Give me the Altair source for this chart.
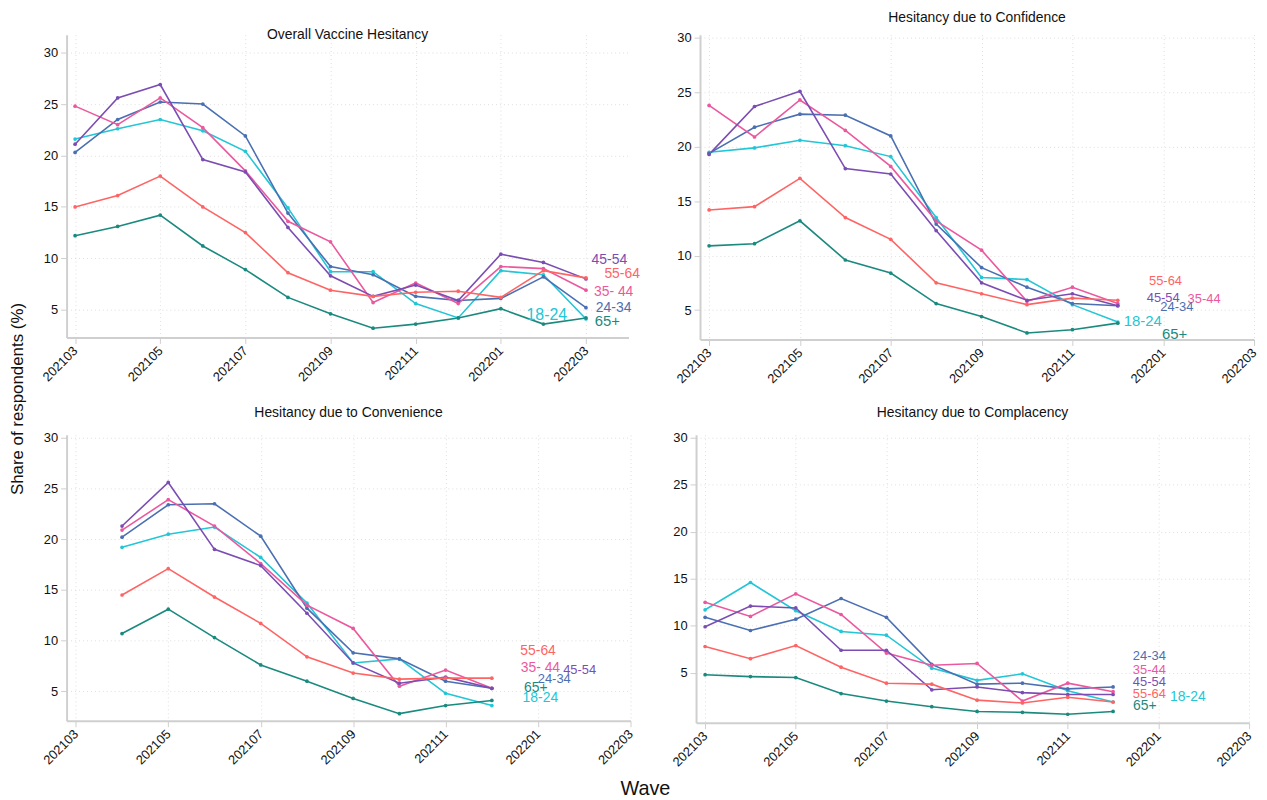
import altair as alt
import pandas as pd

FONT = "Liberation Sans Narrow, Liberation Sans, Arial, sans-serif"

groups = ["18-24", "24-34", "35-44", "45-54", "55-64", "65+"]
palette = ["#22C6D6", "#4A6FB2", "#EC589E", "#7B4DB3", "#FF6464", "#1A8A7E"]

tick_months = [0, 2, 4, 6, 8, 10, 12]
tick_labels = ["202103", "202105", "202107", "202109", "202111", "202201", "202203"]
y_ticks = [5, 10, 15, 20, 25, 30]

# ---------- Panel 1: Overall Vaccine Hesitancy (202103 .. 202203) ----------
p1_months = [0, 1, 2, 3, 4, 5, 6, 7, 8, 9, 10, 11, 12]
p1_18_24 = [21.6, 22.6, 23.5, 22.4, 20.4, 14.9, 8.7, 8.7, 5.6, 4.2, 8.8, 8.4, 4.1]
p1_24_34 = [20.3, 23.5, 25.2, 25.0, 21.9, 14.4, 9.2, 8.4, 6.3, 5.9, 6.1, 8.2, 5.2]
p1_35_44 = [24.8, 23.0, 25.6, 22.7, 18.5, 13.6, 11.6, 5.7, 7.6, 5.6, 9.2, 9.0, 6.9]
p1_45_54 = [21.1, 25.6, 26.9, 19.6, 18.4, 13.0, 8.3, 6.3, 7.4, 5.9, 10.4, 9.6, 8.0]
p1_55_64 = [15.0, 16.1, 18.0, 15.0, 12.5, 8.6, 6.9, 6.3, 6.7, 6.8, 6.2, 8.8, 8.1]
p1_65 = [12.2, 13.1, 14.2, 11.2, 8.9, 6.2, 4.6, 3.2, 3.6, 4.2, 5.1, 3.6, 4.2]
p1_lab_text = ["45-54", "55-64", "35- 44", "24-34", "65+", "18-24"]
p1_lab_group = ["45-54", "55-64", "35-44", "24-34", "65+", "18-24"]
p1_lab_m = [12.55, 12.85, 12.65, 12.65, 12.5, 11.08]
p1_lab_v = [9.8, 8.5, 6.7, 5.2, 3.9, 4.5]
p1_lab_size = [14, 14, 14, 14, 15, 16]

# ---------- Panel 2: Hesitancy due to Confidence (202103 .. 202112) ----------
p2_months = [0, 1, 2, 3, 4, 5, 6, 7, 8, 9]
p2_18_24 = [19.5, 19.9, 20.6, 20.1, 19.1, 13.5, 8.0, 7.8, 5.5, 3.9]
p2_24_34 = [19.4, 21.8, 23.0, 22.9, 21.0, 12.9, 8.9, 7.1, 5.6, 5.4]
p2_35_44 = [23.8, 20.9, 24.3, 21.5, 18.2, 13.2, 10.5, 5.8, 7.1, 5.6]
p2_45_54 = [19.3, 23.7, 25.1, 18.0, 17.5, 12.3, 7.5, 5.9, 6.5, 5.4]
p2_55_64 = [14.2, 14.5, 17.1, 13.5, 11.5, 7.5, 6.5, 5.5, 6.1, 5.9]
p2_65 = [10.9, 11.1, 13.2, 9.6, 8.4, 5.6, 4.4, 2.9, 3.2, 3.8]
p2_lab_text = ["55-64", "45-54", "35-44", "24-34", "18-24", "65+"]
p2_lab_group = ["55-64", "45-54", "35-44", "24-34", "18-24", "65+"]
p2_lab_m = [10.05, 10.0, 10.9, 10.3, 9.55, 10.25]
p2_lab_v = [7.7, 6.1, 6.0, 5.3, 4.0, 2.8]
p2_lab_size = [13, 13, 13, 13, 15, 15]

# ---------- Panel 3: Hesitancy due to Convenience (202104 .. 202112) ----------
p3_months = [1, 2, 3, 4, 5, 6, 7, 8, 9]
p3_18_24 = [19.2, 20.5, 21.2, 18.2, 13.7, 7.8, 8.2, 4.8, 3.6]
p3_24_34 = [20.2, 23.4, 23.5, 20.3, 13.2, 8.8, 8.2, 6.0, 5.3]
p3_35_44 = [20.9, 23.9, 21.3, 17.6, 13.5, 11.2, 5.5, 7.1, 5.3]
p3_45_54 = [21.3, 25.6, 19.0, 17.4, 12.7, 7.8, 5.8, 6.4, 5.3]
p3_55_64 = [14.5, 17.1, 14.3, 11.7, 8.4, 6.8, 6.2, 6.3, 6.3]
p3_65 = [10.7, 13.1, 10.3, 7.6, 6.0, 4.3, 2.8, 3.6, 4.1]
p3_lab_text = ["55-64", "35- 44", "45-54", "24-34", "65+", "18-24"]
p3_lab_group = ["55-64", "35-44", "45-54", "24-34", "65+", "18-24"]
p3_lab_m = [10.0, 10.05, 10.9, 10.35, 9.95, 10.05]
p3_lab_v = [9.0, 7.3, 7.1, 6.2, 5.3, 4.3]
p3_lab_size = [14, 14, 13, 13, 14, 14]

# ---------- Panel 4: Hesitancy due to Complacency (202103 .. 202112) ----------
p4_months = [0, 1, 2, 3, 4, 5, 6, 7, 8, 9]
p4_18_24 = [11.7, 14.6, 11.6, 9.4, 9.0, 5.5, 4.2, 4.9, 3.1, 1.9]
p4_24_34 = [10.9, 9.5, 10.7, 12.9, 10.9, 5.9, 3.8, 3.9, 3.3, 3.5]
p4_35_44 = [12.5, 11.0, 13.4, 11.2, 7.1, 5.8, 6.0, 2.0, 3.9, 3.0]
p4_45_54 = [9.9, 12.1, 11.9, 7.4, 7.4, 3.2, 3.5, 2.9, 2.7, 2.7]
p4_55_64 = [7.8, 6.5, 7.9, 5.6, 3.9, 3.8, 2.1, 1.8, 2.4, 1.9]
p4_65 = [4.8, 4.6, 4.5, 2.8, 2.0, 1.4, 0.9, 0.8, 0.6, 0.9]
p4_lab_text = ["24-34", "35-44", "45-54", "55-64", "18-24", "65+"]
p4_lab_group = ["24-34", "35-44", "45-54", "55-64", "18-24", "65+"]
p4_lab_m = [9.8, 9.8, 9.8, 9.8, 10.65, 9.7]
p4_lab_v = [6.8, 5.3, 4.0, 2.7, 2.4, 1.5]
p4_lab_size = [13, 13, 13, 13, 14, 14]

label_expr = "[" + ",".join("'%s'" % t for t in tick_labels) + "][round(datum.value / 2)]"


def panel(title, months, series, labs, x_max, y_dom, width, height, title_offset, title_dy=0):
    recs = []
    for g, vals in zip(groups, series):
        for m, v in zip(months, vals):
            recs.append({"m": m, "v": v, "g": g})
    df = pd.DataFrame(recs)
    ldf = pd.DataFrame({"t": labs[0], "g": labs[1], "m": labs[2], "v": labs[3], "s": labs[4]})

    x = alt.X("m:Q", title=None,
              scale=alt.Scale(domain=[-0.2, x_max], nice=False, zero=False),
              axis=alt.Axis(values=tick_months, labelExpr=label_expr, labelAngle=-45,
                            labelAlign="right", labelBaseline="middle", labelPadding=5,
                            domainWidth=2, tickSize=6))
    y = alt.Y("v:Q", title=None,
              scale=alt.Scale(domain=y_dom, nice=False, zero=False),
              axis=alt.Axis(values=y_ticks, tickSize=6, labelPadding=3, domainWidth=2))
    color = alt.Color("g:N", scale=alt.Scale(domain=groups, range=palette), legend=None)

    lines = alt.Chart(df).mark_line(strokeWidth=1.6).encode(x=x, y=y, color=color)
    pts = alt.Chart(df).mark_circle(size=14, opacity=1).encode(x=x, y=y, color=color)
    txt = alt.Chart(ldf).mark_text(font=FONT, align="center", baseline="middle").encode(
        x=x, y=y, color=color, text="t:N", size=alt.Size("s:Q", scale=None, legend=None))
    return alt.layer(lines, pts, txt).properties(
        width=width, height=height,
        title=alt.TitleParams(title, offset=title_offset, dy=title_dy, fontSize=14, font=FONT,
                              fontWeight="normal", color="#111111"))


p1 = panel("Overall Vaccine Hesitancy", p1_months,
           [p1_18_24, p1_24_34, p1_35_44, p1_45_54, p1_55_64, p1_65],
           [p1_lab_text, p1_lab_group, p1_lab_m, p1_lab_v, p1_lab_size],
           13.0, [2.3, 31.75], 566, 305, 7, 14)
p2 = panel("Hesitancy due to Confidence", p2_months,
           [p2_18_24, p2_24_34, p2_35_44, p2_45_54, p2_55_64, p2_65],
           [p2_lab_text, p2_lab_group, p2_lab_m, p2_lab_v, p2_lab_size],
           12.0, [2.3, 30.3], 558, 307, 7)
p3 = panel("Hesitancy due to Convenience", p3_months,
           [p3_18_24, p3_24_34, p3_35_44, p3_45_54, p3_55_64, p3_65],
           [p3_lab_text, p3_lab_group, p3_lab_m, p3_lab_v, p3_lab_size],
           12.0, [2.1, 30.3], 568, 288, 12)
p4 = panel("Hesitancy due to Complacency", p4_months,
           [p4_18_24, p4_24_34, p4_35_44, p4_45_54, p4_55_64, p4_65],
           [p4_lab_text, p4_lab_group, p4_lab_m, p4_lab_v, p4_lab_size],
           12.0, [-0.3, 30.3], 557, 290, 12)

row1 = alt.hconcat(p1, p2, spacing=34)
row2 = alt.hconcat(p3, p4, spacing=35)
grid = alt.vconcat(row1, row2, spacing=19)

ytitle = alt.Chart(pd.DataFrame({"t": ["Share of respondents (%)"]})).mark_text(
    angle=270, fontSize=17, font=FONT, color="#111111").encode(
    text="t:N", x=alt.value(10), y=alt.value(367)).properties(width=20, height=740)

chart = alt.hconcat(ytitle, grid, spacing=12).properties(
    padding=0,
    title=alt.TitleParams("Wave", orient="bottom", anchor="middle", fontSize=20, font=FONT,
                          fontWeight="normal", color="#111111", offset=10, dx=12)
).configure_view(stroke=None).configure_axis(
    labelFont=FONT, labelFontSize=13, labelColor="#111111",
    domainColor="#cfcfcf", tickColor="#cfcfcf",
    gridColor="#dedede", gridDash=[1, 3], gridWidth=1, grid=True
)

chart.save("out.html", embed_options={"renderer": "svg", "actions": False})
